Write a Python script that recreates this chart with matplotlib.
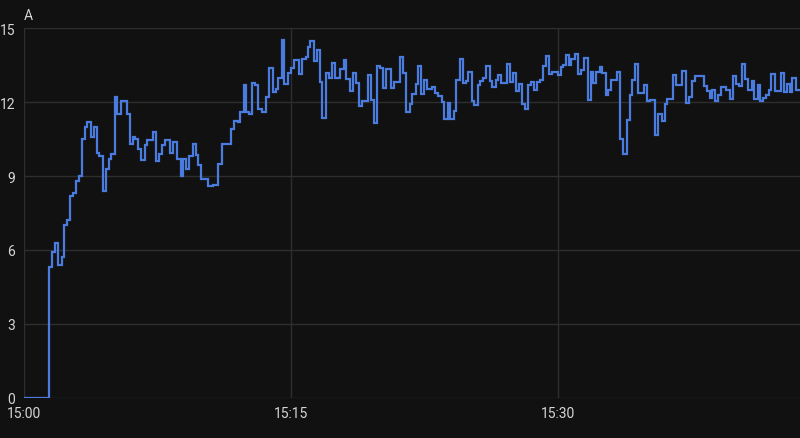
import matplotlib
matplotlib.use("Agg")
import matplotlib.pyplot as plt
from matplotlib.ticker import FuncFormatter, MultipleLocator

# seconds after 15:00 where the reading changes, and the new reading (A)
secondes = [0, 87, 95, 106, 117, 129, 136, 145, 156, 166, 177, 186, 197, 207, 215, 226, 237,
            246, 255, 266, 278, 287, 295, 307, 316, 327, 347, 358, 367, 376, 385, 396, 408,
            417, 435, 446, 457, 466, 477, 493, 504, 517, 529, 538, 547, 558, 569, 580, 586,
            597, 620, 639, 655, 667, 698, 709, 721, 729, 741, 750, 759, 768, 779, 788, 801,
            817, 826, 839, 849, 857, 869, 877, 889, 900, 909, 927, 938, 949, 956, 965, 976,
            987, 997, 1005, 1019, 1028, 1037, 1048, 1066, 1077, 1086, 1097, 1109, 1118, 1129,
            1138, 1158, 1169, 1178, 1189, 1200, 1210, 1219, 1236, 1248, 1266, 1277, 1288,
            1299, 1308, 1320, 1328, 1337, 1349, 1358, 1373, 1385, 1394, 1407, 1416, 1427,
            1436, 1447, 1456, 1468, 1479, 1490, 1497, 1508, 1517, 1528, 1537, 1546, 1557,
            1569, 1577, 1589, 1597, 1607, 1627, 1638, 1647, 1658, 1667, 1676, 1687, 1698,
            1707, 1717, 1728, 1739, 1748, 1759, 1768, 1779, 1797, 1808, 1817, 1826, 1835,
            1844, 1856, 1867, 1876, 1887, 1898, 1909, 1918, 1927, 1939, 1947, 1959, 1968,
            1977, 1997, 2008, 2019, 2030, 2040, 2048, 2057, 2069, 2087, 2098, 2109, 2125,
            2136, 2147, 2158, 2167, 2185, 2196, 2217, 2228, 2239, 2248, 2259, 2291, 2300,
            2309, 2317, 2327, 2338, 2347, 2365, 2376, 2387, 2398, 2407, 2418, 2428, 2439,
            2450, 2459, 2470, 2479, 2490, 2499, 2508, 2517, 2528, 2549, 2560, 2569, 2578,
            2587, 2598]
courant = [0, 5.3, 5.9, 6.3, 5.4, 5.7, 7.0, 7.2, 8.2, 8.3, 8.8, 9.0, 10.5, 11.0, 11.2, 10.6, 11.0,
           9.95, 9.8, 8.4, 9.3, 9.7, 9.9, 12.2, 11.5, 12.05, 11.5, 10.3, 10.6, 10.5, 10.1, 9.65, 10.25,
           10.45, 10.8, 9.6, 9.9, 10.25, 10.45, 9.95, 10.4, 9.7, 9.0, 9.7, 9.3, 9.8, 10.3, 9.85, 9.43,
           8.9, 8.6, 8.65, 9.5, 10.3, 10.9, 11.25, 11.2, 11.6, 12.68, 11.6, 11.5, 12.77, 12.7, 11.73, 11.6,
           12.23, 13.38, 12.4, 12.54, 13.0, 14.54, 12.74, 13.2, 13.4, 13.7, 13.15, 13.76, 13.85, 14.23, 14.47, 13.69,
           14.12, 12.8, 11.36, 13.18, 13.0, 13.6, 12.97, 13.35, 13.7, 12.95, 12.45, 13.18, 12.77, 11.86,
           12.04, 13.1, 12.1, 11.16, 13.46, 13.38, 12.58, 13.35, 12.58, 12.8, 13.85, 13.18, 11.62,
           11.93, 12.34, 12.74, 13.46, 12.34, 12.88, 12.54, 12.6, 12.36, 12.24, 12.0, 11.3, 11.97,
           11.3, 11.64, 12.88, 13.76, 12.78, 12.85, 13.24, 12.03, 11.89, 12.7, 12.85, 12.99, 13.45,
           12.85, 12.6, 12.88, 13.12, 12.77, 13.53, 12.8, 13.19, 12.47, 12.74, 11.93, 11.73, 12.68,
           12.8, 12.51, 12.8, 12.88, 13.45, 13.86, 13.15, 13.22, 13.12, 13.42, 13.51, 13.92, 13.49,
           13.76, 13.96, 13.15, 13.32, 13.8, 12.07, 13.22, 12.77, 13.22, 13.42, 13.18, 12.31, 12.5,
           12.9, 13.22, 10.49, 9.88, 11.28, 12.31, 12.88, 13.55, 12.38, 12.68, 12.04, 12.1, 10.68,
           11.53, 11.23, 11.93, 12.14, 13.12, 12.7, 13.26, 11.96, 12.23, 12.85, 13.08, 12.64, 12.47,
           12.18, 12.51, 12.04, 12.3, 12.6, 12.51, 12.14, 13.05, 12.74, 12.65, 13.55, 12.95, 12.5,
           12.85, 12.14, 12.7, 12.04, 12.18, 12.3, 12.51, 13.15, 12.47, 13.18, 12.4, 12.74, 12.4,
           12.99, 12.5]
fin_secondes = 2613
y_ticks = [0, 3, 6, 9, 12, 15]
unite = "A"

fond = "#111111"
bleu = "#4a7ce0"
gris_grille = "#2e2e2e"
gris_texte = "#d6d6d6"

plt.rcParams["font.family"] = ["Roboto", "DejaVu Sans"]

fig = plt.figure(figsize=(8, 4.39), dpi=100, facecolor=fond)
ax = fig.add_axes([0.0294, 0.0918, 0.9706, 0.8415], facecolor=fond)

x = secondes + [fin_secondes]
y = courant + [courant[-1]]
ax.plot(x, y, drawstyle="steps-post", color=bleu, lw=1.6, solid_joinstyle="miter")

ax.set_xlim(0, fin_secondes)
ax.set_ylim(0, 15)
ax.set_yticks(y_ticks)
ax.xaxis.set_major_locator(MultipleLocator(900))
ax.xaxis.set_major_formatter(FuncFormatter(lambda s, _: "15:%02d" % (s // 60)))

ax.grid(True, color=gris_grille, lw=1)
ax.set_axisbelow(True)
for sp in ax.spines.values():
    sp.set_visible(False)
ax.tick_params(axis="both", length=0, colors=gris_texte, labelsize=10)
ax.tick_params(axis="y", pad=6)
ax.tick_params(axis="x", pad=6)

ax.text(0, 1.018, unite, transform=ax.transAxes, color=gris_texte, fontsize=10,
        ha="left", va="bottom")

fig.savefig("out.png", dpi=100, facecolor=fond)
